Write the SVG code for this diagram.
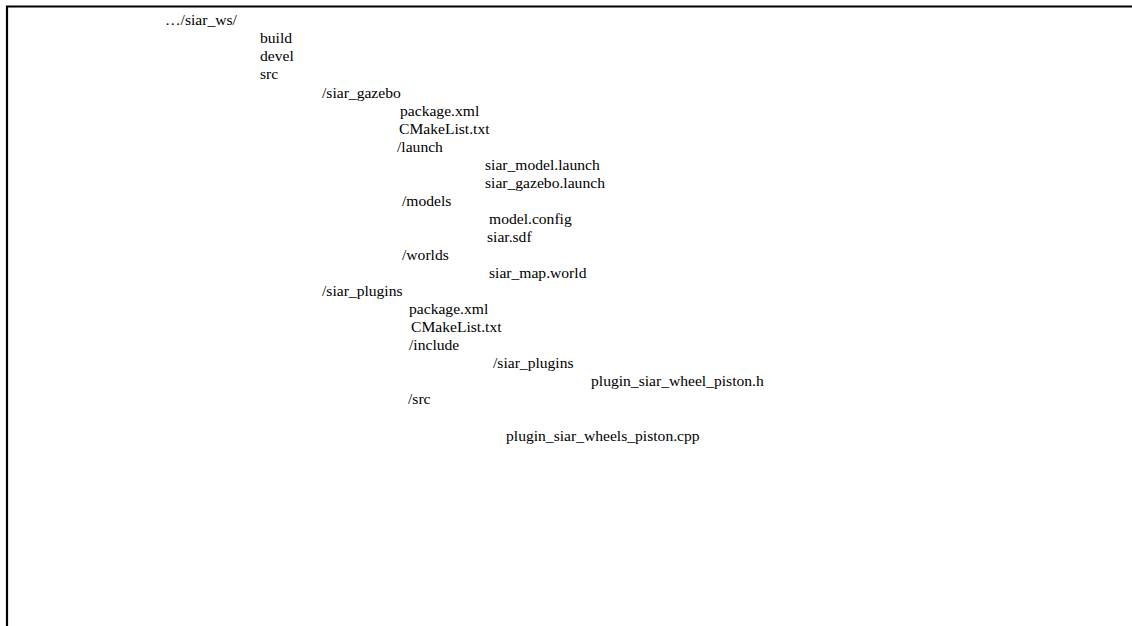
<svg xmlns="http://www.w3.org/2000/svg" width="1132" height="626" viewBox="0 0 1132 626">
  <style>
    .t { font-family: "Liberation Serif", "Times New Roman", serif; font-size: 15.6px; fill: #000; }
    .frame { fill: none; stroke: #000; stroke-width: 2.2; }
  </style>
  <rect width="1132" height="626" fill="#fff"/>
  <!-- open frame: top and left edges only -->
  <path class="frame" d="M7,626 V6.5 H1132"/>
  <g id="tree">
    <text class="t" x="165" y="25">…/siar_ws/</text>
    <text class="t" x="260" y="43">build</text>
    <text class="t" x="260" y="61">devel</text>
    <text class="t" x="260" y="79">src</text>
    <text class="t" x="322" y="98">/siar_gazebo</text>
    <text class="t" x="400" y="116">package.xml</text>
    <text class="t" x="399" y="134">CMakeList.txt</text>
    <text class="t" x="397" y="152">/launch</text>
    <text class="t" x="485" y="170">siar_model.launch</text>
    <text class="t" x="485" y="188">siar_gazebo.launch</text>
    <text class="t" x="402" y="206">/models</text>
    <text class="t" x="489" y="224">model.config</text>
    <text class="t" x="487" y="242">siar.sdf</text>
    <text class="t" x="402" y="260">/worlds</text>
    <text class="t" x="489" y="278">siar_map.world</text>
    <text class="t" x="322" y="296">/siar_plugins</text>
    <text class="t" x="409" y="314">package.xml</text>
    <text class="t" x="411" y="332">CMakeList.txt</text>
    <text class="t" x="409" y="350">/include</text>
    <text class="t" x="493" y="368">/siar_plugins</text>
    <text class="t" x="591" y="386">plugin_siar_wheel_piston.h</text>
    <text class="t" x="408" y="404">/src</text>
    <text class="t" x="506" y="441">plugin_siar_wheels_piston.cpp</text>
  </g>
</svg>
